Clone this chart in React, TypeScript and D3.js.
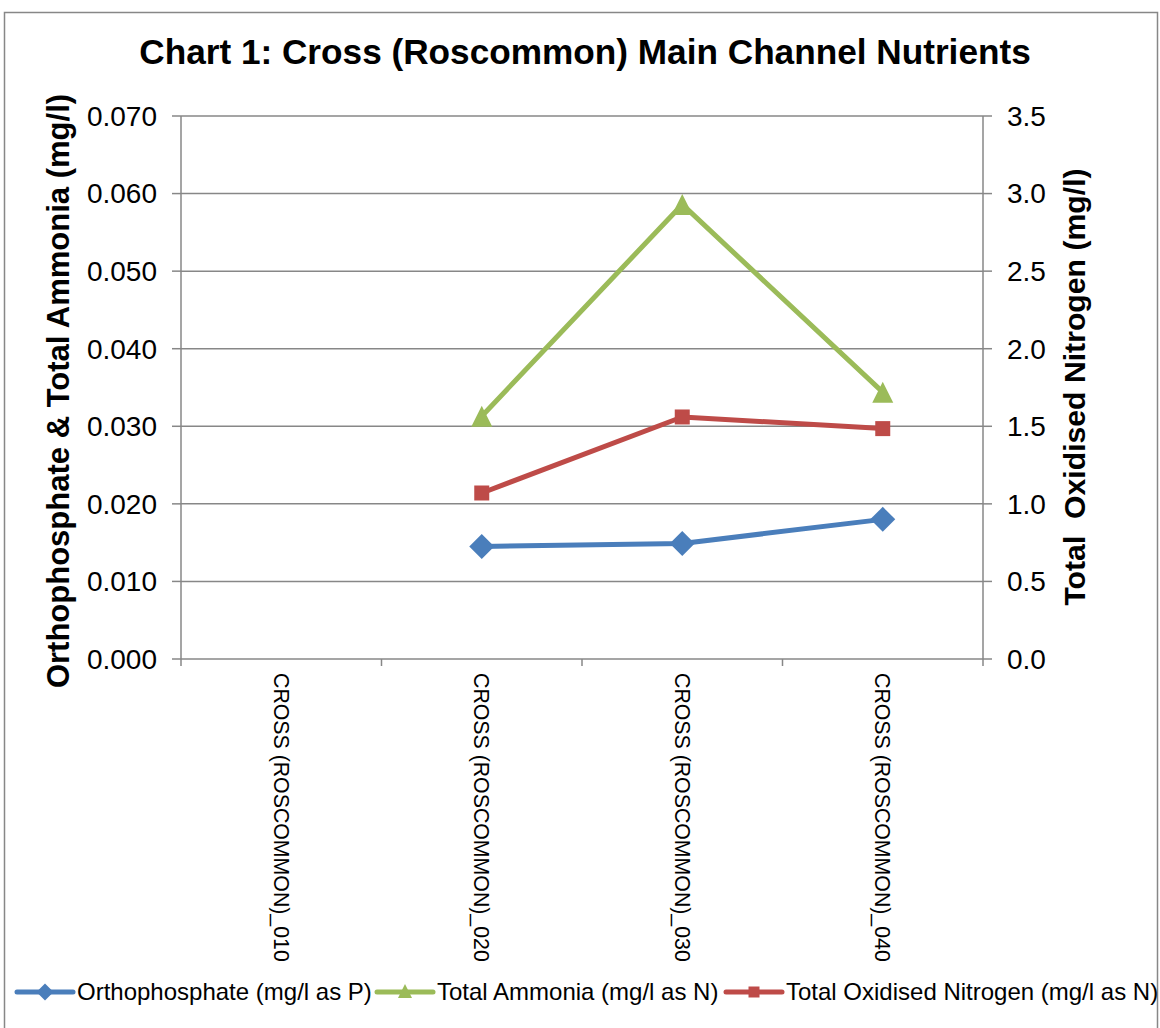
import React from "react";
import * as d3 from "d3";

const categories = [
  "CROSS (ROSCOMMON)_010",
  "CROSS (ROSCOMMON)_020",
  "CROSS (ROSCOMMON)_030",
  "CROSS (ROSCOMMON)_040",
];
const orthophosphate: (number | null)[] = [null, 0.0145, 0.0149, 0.018];
const totalAmmonia: (number | null)[] = [null, 0.0313, 0.0586, 0.0344];
const oxidisedNitrogen: (number | null)[] = [null, 1.07, 1.56, 1.485];
const leftTicks = [0, 0.01, 0.02, 0.03, 0.04, 0.05, 0.06, 0.07];
const rightTicks = [0, 0.5, 1.0, 1.5, 2.0, 2.5, 3.0, 3.5];
const legendLabels = [
  "Orthophosphate (mg/l as P)",
  "Total Ammonia (mg/l as N)",
  "Total Oxidised Nitrogen (mg/l as N)",
];

const W = 1160;
const H = 1028;
const FONT = "'Liberation Sans', Arial, sans-serif";
const GRID = "#878787";
const BLUE = "#4A7EBB";
const GREEN = "#9BBB59";
const RED = "#BE4B48";

const left = 181;
const right = 983;
const top = 116;
const bottom = 659;

export default function App() {
  const x = d3.scaleBand<string>().domain(categories).range([left, right]).padding(0);
  const yL = d3.scaleLinear().domain([0, 0.07]).range([bottom, top]);
  const yR = d3.scaleLinear().domain([0, 3.5]).range([bottom, top]);
  const cx = (c: string) => (x(c) as number) + x.bandwidth() / 2;

  const mkLine = (vals: (number | null)[], y: d3.ScaleLinear<number, number>) =>
    d3
      .line<number | null>()
      .defined((d) => d != null)
      .x((_, i) => cx(categories[i]))
      .y((d) => y(d as number))(vals) || "";

  const diamond = (px: number, py: number, r: number) =>
    `M${px},${py - r}L${px + r},${py}L${px},${py + r}L${px - r},${py}Z`;
  const triangle = (px: number, py: number, s: number) =>
    `M${px},${py - s / 2}L${px + s / 2},${py + s / 2}L${px - s / 2},${py + s / 2}Z`;
  const square = (px: number, py: number, s: number) =>
    `M${px - s / 2},${py - s / 2}h${s}v${s}h${-s}Z`;

  const boundaries = [...categories.map((c) => x(c) as number), right];

  const legendX = [17, 377, 726];
  const legendY = 992;
  const legendColors = [BLUE, GREEN, RED];

  return (
    <svg
      width={W}
      height={H}
      style={{ position: "absolute", left: 0, top: 0, fontFamily: FONT }}
    >
      <rect x={0} y={0} width={W} height={H} fill="#fff" />
      <rect x={4.5} y={12.5} width={1153} height={1030} fill="#fff" stroke={GRID} strokeWidth={1.5} />

      <text x={585} y={64} textAnchor="middle" fontSize={35.2} fontWeight="bold" fill="#000">
        Chart 1: Cross (Roscommon) Main Channel Nutrients
      </text>

      {/* gridlines */}
      {leftTicks.map((t) => (
        <line key={"g" + t} x1={left} x2={right} y1={yL(t)} y2={yL(t)} stroke={GRID} strokeWidth={1.5} />
      ))}
      {/* axes */}
      <line x1={left} x2={left} y1={top} y2={bottom} stroke={GRID} strokeWidth={1.5} />
      <line x1={right} x2={right} y1={top} y2={bottom} stroke={GRID} strokeWidth={1.5} />
      {leftTicks.map((t) => (
        <line key={"lt" + t} x1={left - 9} x2={left} y1={yL(t)} y2={yL(t)} stroke={GRID} strokeWidth={1.5} />
      ))}
      {rightTicks.map((t) => (
        <line key={"rt" + t} x1={right} x2={right + 9} y1={yR(t)} y2={yR(t)} stroke={GRID} strokeWidth={1.5} />
      ))}
      {boundaries.map((b, i) => (
        <line key={"xt" + i} x1={b} x2={b} y1={bottom} y2={bottom + 7} stroke={GRID} strokeWidth={1.5} />
      ))}

      {/* tick labels */}
      {leftTicks.map((t) => (
        <text key={"ll" + t} x={157} y={yL(t)} dy="0.35em" textAnchor="end" fontSize={28} fill="#000">
          {d3.format(".3f")(t)}
        </text>
      ))}
      {rightTicks.map((t) => (
        <text key={"rl" + t} x={1007} y={yR(t)} dy="0.35em" textAnchor="start" fontSize={28} fill="#000">
          {d3.format(".1f")(t)}
        </text>
      ))}
      {categories.map((c) => (
        <text
          key={c}
          transform={`translate(${cx(c) - 7.5},673) rotate(90)`}
          fontSize={21.3}
          fill="#000"
        >
          {c}
        </text>
      ))}

      {/* axis titles */}
      <text
        transform="translate(69,391) rotate(-90)"
        textAnchor="middle"
        fontSize={31}
        fontWeight="bold"
        fill="#000"
      >
        Orthophosphate &amp; Total Ammonia (mg/l)
      </text>
      <text
        transform="translate(1085,387) rotate(-90)"
        textAnchor="middle"
        fontSize={30.2}
        fontWeight="bold"
        fill="#000"
        style={{ whiteSpace: "pre" }}
      >
        {"Total  Oxidised Nitrogen (mg/l)"}
      </text>

      {/* series */}
      <path d={mkLine(orthophosphate, yL)} fill="none" stroke={BLUE} strokeWidth={5} strokeLinejoin="round" />
      <path d={mkLine(totalAmmonia, yL)} fill="none" stroke={GREEN} strokeWidth={5} strokeLinejoin="round" />
      <path d={mkLine(oxidisedNitrogen, yR)} fill="none" stroke={RED} strokeWidth={5} strokeLinejoin="round" />

      {orthophosphate.map((v, i) =>
        v == null ? null : <path key={"o" + i} d={diamond(cx(categories[i]), yL(v), 12.5)} fill={BLUE} />
      )}
      {totalAmmonia.map((v, i) =>
        v == null ? null : <path key={"a" + i} d={triangle(cx(categories[i]), yL(v), 21)} fill={GREEN} />
      )}
      {oxidisedNitrogen.map((v, i) =>
        v == null ? null : <path key={"n" + i} d={square(cx(categories[i]), yR(v), 15)} fill={RED} />
      )}

      {/* legend */}
      {legendLabels.map((lab, i) => {
        const lx = legendX[i];
        const mx = lx + 28;
        return (
          <g key={lab}>
            <line x1={lx} x2={lx + 56} y1={legendY} y2={legendY} stroke={legendColors[i]} strokeWidth={5} strokeLinecap="round" />
            {i === 0 && <path d={diamond(mx, legendY, 8.5)} fill={BLUE} />}
            {i === 1 && <path d={triangle(mx, legendY - 1, 14)} fill={GREEN} />}
            {i === 2 && <path d={square(mx, legendY, 11)} fill={RED} />}
            <text x={lx + 60} y={legendY} dy="0.35em" fontSize={24} fill="#000">
              {lab}
            </text>
          </g>
        );
      })}
    </svg>
  );
}
